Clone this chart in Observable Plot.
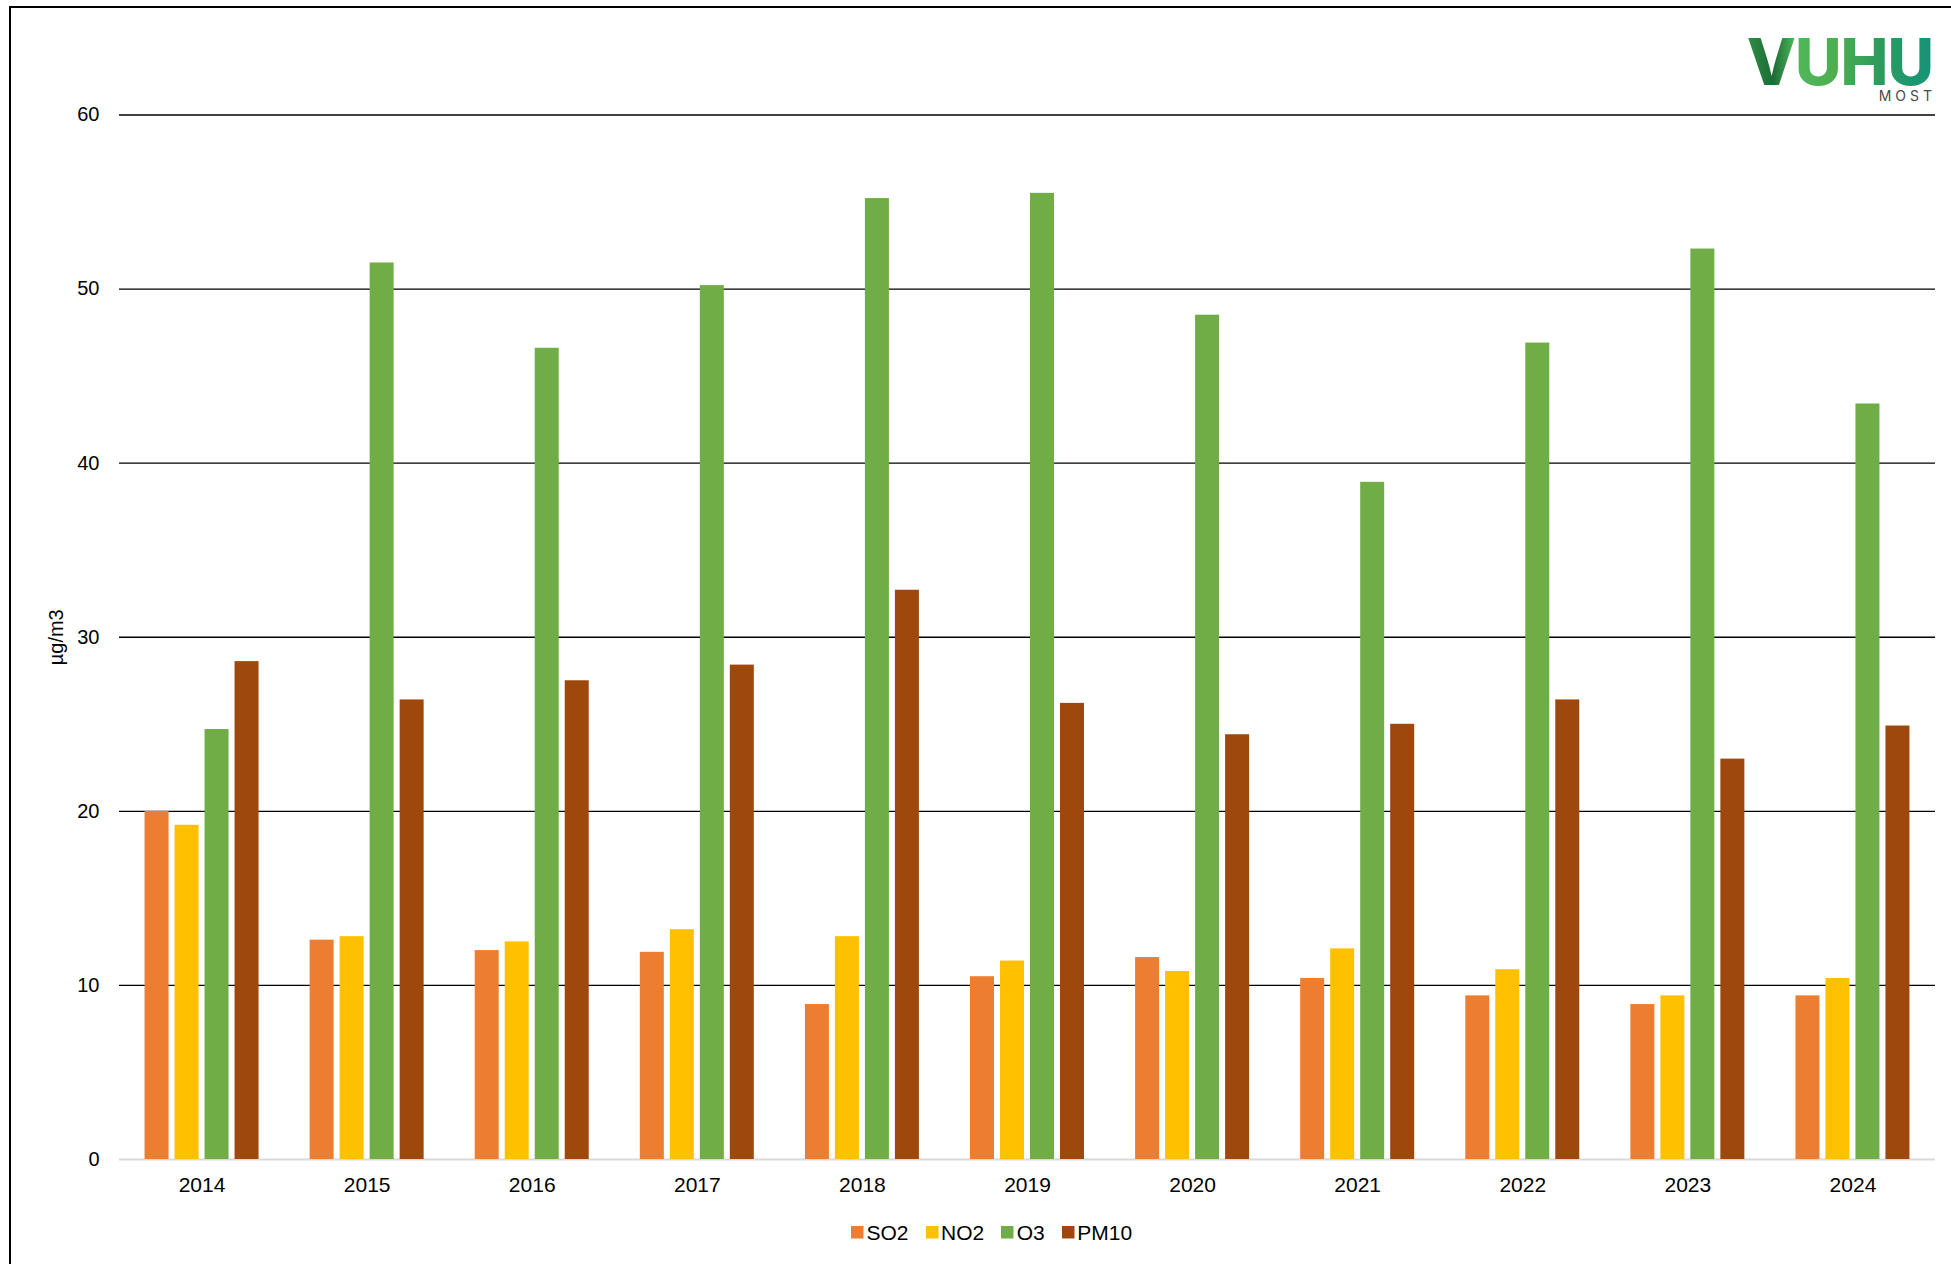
<!DOCTYPE html>
<html>
<head>
<meta charset="utf-8">
<script src="https://cdn.jsdelivr.net/npm/d3@7"></script>
<script src="https://cdn.jsdelivr.net/npm/@observablehq/plot@0.6"></script>
<style>
  html, body { margin: 0; padding: 0; background: #fff; }
  body { width: 1951px; height: 1264px; position: relative; overflow: hidden; font-family: "Liberation Sans", Arial, sans-serif; }
  #frame { position: absolute; left: 9px; top: 6px; right: -4px; bottom: -4px; border-left: 2px solid #000; border-top: 2px solid #000; pointer-events: none; }
  #chart { position: absolute; left: 0; top: 0; }
  #legend { position: absolute; left: 851px; top: 1216px; }
  #legend .lg-swatches, #legend div { margin: 0 !important; font-family: "Liberation Sans", Arial, sans-serif !important; font-size: 21px !important; color: #000 !important; }
  #legend .lg-swatch { margin-right: 17px !important; }
  #legend .lg-swatch svg { margin-right: 3px !important; }
  #logo { position: absolute; right: 18px; top: 36px; font-family: Inter, "Open Sans", sans-serif; font-weight: 800; font-size: 64px; line-height: 0.8; letter-spacing: -1px;
          background: linear-gradient(90deg, #2f8f45 0%, #1d6b36 14%, #4fb85a 26%, #4cae4f 48%, #2f9c5c 70%, #14937a 100%);
          -webkit-background-clip: text; background-clip: text; color: transparent; }
  #most { position: absolute; right: 15px; top: 89px; font-family: Inter, "Open Sans", sans-serif; font-size: 14px; line-height: 1; letter-spacing: 4px; color: #4a4a4a; }
</style>
</head>
<body>
<div id="chart"></div>
<div id="legend"></div>
<div id="logo">VUHU</div>
<div id="most">MOST</div>
<div id="frame"></div>
<script>
const years = ["2014","2015","2016","2017","2018","2019","2020","2021","2022","2023","2024"];
const pollutants = ["SO2","NO2","O3","PM10"];
const so2  = [20.0, 12.6, 12.0, 11.9,  8.9, 10.5, 11.6, 10.4,  9.4,  8.9,  9.4];
const no2  = [19.2, 12.8, 12.5, 13.2, 12.8, 11.4, 10.8, 12.1, 10.9,  9.4, 10.4];
const o3   = [24.7, 51.5, 46.6, 50.2, 55.2, 55.5, 48.5, 38.9, 46.9, 52.3, 43.4];
const pm10 = [28.6, 26.4, 27.5, 28.4, 32.7, 26.2, 24.4, 25.0, 26.4, 23.0, 24.9];
const colors = ["#ED7D31", "#FFC000", "#70AD47", "#9E480E"];
const yTicks = [0, 10, 20, 30, 40, 50, 60];
const gridTicks = [10, 20, 30, 40, 50, 60];

const seriesValues = [so2, no2, o3, pm10];
const rows = [];
pollutants.forEach((p, i) => years.forEach((y, j) => rows.push({year: y, series: p, value: seriesValues[i][j]})));

const W = 1951, H = 1210;
const mL = 119, mR = 16, mT = 114.5, mB = 51;
const step = (W - mL - mR) / years.length;
const barW = 24, barStep = 30;
const groupStart = step / 2 - (barStep * 3 + barW) / 2;

const barMarks = pollutants.map((p, i) => {
  const left = groupStart + barStep * i;
  return Plot.barY(rows.filter(d => d.series === p), {
    x: "year", y: "value", fill: "series",
    insetLeft: left, insetRight: step - left - barW
  });
});

const chart = Plot.plot({
  width: W, height: H,
  marginLeft: mL, marginRight: mR, marginTop: mT, marginBottom: mB,
  style: {fontFamily: "'Liberation Sans', Arial, sans-serif", fontSize: "20px", color: "#000", background: "transparent"},
  x: {type: "band", domain: years, padding: 0, round: false, axis: null},
  y: {domain: [0, 60], axis: null},
  color: {domain: pollutants, range: colors},
  marks: [
    Plot.ruleY(gridTicks, {stroke: "#000", strokeWidth: 1.3}),
    Plot.ruleY([0], {stroke: "#d9d9d9", strokeWidth: 2}),
    ...barMarks,
    Plot.axisX({tickSize: 0, tickPadding: 18, fontSize: 21, label: null}),
    Plot.axisY({ticks: yTicks, tickSize: 0, tickPadding: 20, fontSize: 20, label: "µg/m3", labelAnchor: "center", labelArrow: "none", labelOffset: 71})
  ]
});
document.getElementById("chart").appendChild(chart);

const legend = Plot.legend({
  color: {domain: pollutants, range: colors},
  swatchSize: 12.5,
  className: "lg",
  style: {fontFamily: "'Liberation Sans', Arial, sans-serif", fontSize: "21px", color: "#000"}
});
document.getElementById("legend").appendChild(legend);
</script>
</body>
</html>
